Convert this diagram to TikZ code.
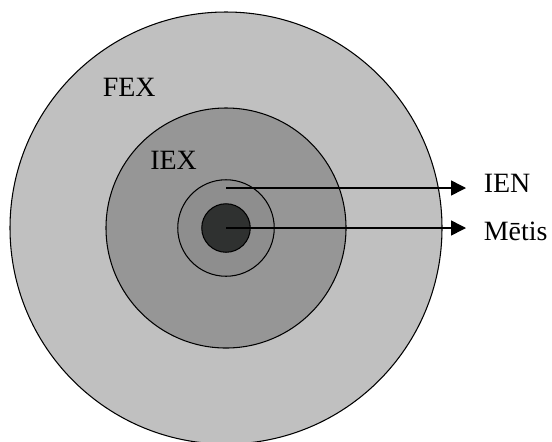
\documentclass[tikz,border=0pt]{standalone}
\usepackage{fontspec}
\setmainfont{Liberation Serif}
\usetikzlibrary{arrows.meta}
\definecolor{fexgray}{HTML}{C0C0C0}
\definecolor{iexgray}{HTML}{969696}
\definecolor{iengray}{HTML}{8E8E8E}
\definecolor{metisgray}{HTML}{2F3130}
\begin{document}
\begin{tikzpicture}[ring/.style={draw=black,line width=0.6pt},
                    lbl/.style={anchor=base west,inner sep=0pt,font=\fontsize{15.9}{19}\selectfont},
                    pointer/.style={line width=0.85pt,-{Triangle[length=0.3cm,width=0.3cm]}}]
                    \useasboundingbox (0,0) rectangle (11.04,8.82);
                    \clip (0,0) rectangle (11.04,8.82);
                    \coordinate (c) at (4.52,4.26);
                    \draw[ring,fill=fexgray] (c) circle (4.32);
                    \draw[ring,fill=iexgray] (c) circle (2.40);
                    \draw[ring,fill=iengray] (c) circle (0.965);
                    \draw[ring,fill=metisgray] (c) circle (0.485);
                    \node[lbl] (fex) at (2.05,6.89) {FEX};
                    \node[lbl] (iex) at (3.00,5.44) {IEX};
                    \node[lbl] (ien) at (9.67,4.97) {IEN};
                    \node[lbl] (metis) at (9.67,4.02) {Mētis};
                    \coordinate (ienfrom) at (4.52,5.06);
                    \coordinate (iento) at (9.32,5.06);
                    \coordinate (metisto) at (9.32,4.26);
                    \draw[pointer] (ienfrom) -- (iento);
                    \draw[pointer] (c) -- (metisto);
\end{tikzpicture}
\end{document}
